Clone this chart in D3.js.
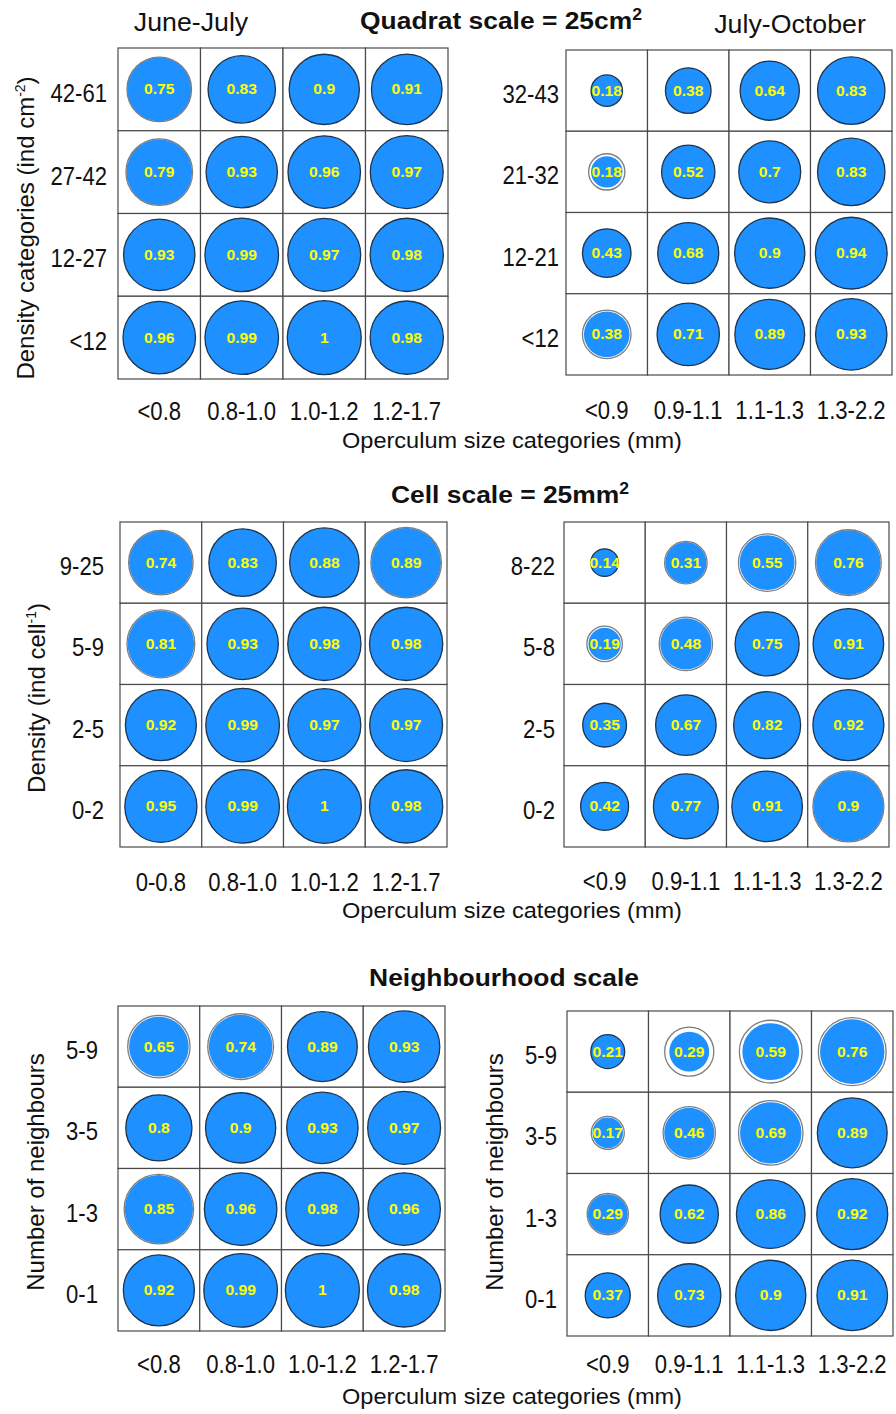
<!DOCTYPE html>
<html>
<head>
<meta charset="utf-8">
<script src="https://cdn.jsdelivr.net/npm/d3@7"></script>
<style>
  html, body { margin: 0; padding: 0; background: #fff; }
  svg { display: block; }
</style>
</head>
<body>
<svg id="chart" width="896" height="1414"></svg>
<script>
// ---- Survival proportions by operculum size and density class ----

// Quadrat scale (25 cm²)
const quadratJuneCols = ["<0.8", "0.8-1.0", "1.0-1.2", "1.2-1.7"];
const quadratJuneRows = ["42-61", "27-42", "12-27", "<12"];
const quadratJuneValues = [
  [0.75, 0.83, 0.9, 0.91],
  [0.79, 0.93, 0.96, 0.97],
  [0.93, 0.99, 0.97, 0.98],
  [0.96, 0.99, 1, 0.98]
];
const quadratJuneUpper = [
  [0.76, 0.83, 0.9, 0.91],
  [0.81, 0.93, 0.96, 0.97],
  [0.93, 0.99, 0.97, 0.98],
  [0.96, 0.99, 1, 0.98]
];

const quadratOctCols = ["<0.9", "0.9-1.1", "1.1-1.3", "1.3-2.2"];
const quadratOctRows = ["32-43", "21-32", "12-21", "<12"];
const quadratOctValues = [
  [0.18, 0.38, 0.64, 0.83],
  [0.18, 0.52, 0.7, 0.83],
  [0.43, 0.68, 0.9, 0.94],
  [0.38, 0.71, 0.89, 0.93]
];
const quadratOctUpper = [
  [0.18, 0.38, 0.64, 0.83],
  [0.24, 0.52, 0.7, 0.83],
  [0.43, 0.68, 0.9, 0.94],
  [0.43, 0.71, 0.89, 0.93]
];

// Cell scale (25 mm²)
const cellJuneCols = ["0-0.8", "0.8-1.0", "1.0-1.2", "1.2-1.7"];
const cellJuneRows = ["9-25", "5-9", "2-5", "0-2"];
const cellJuneValues = [
  [0.74, 0.83, 0.88, 0.89],
  [0.81, 0.93, 0.98, 0.98],
  [0.92, 0.99, 0.97, 0.97],
  [0.95, 0.99, 1, 0.98]
];
const cellJuneUpper = [
  [0.76, 0.83, 0.88, 0.91],
  [0.84, 0.93, 0.98, 0.98],
  [0.92, 0.99, 0.97, 0.97],
  [0.95, 0.99, 1, 0.98]
];

const cellOctCols = ["<0.9", "0.9-1.1", "1.1-1.3", "1.3-2.2"];
const cellOctRows = ["8-22", "5-8", "2-5", "0-2"];
const cellOctValues = [
  [0.14, 0.31, 0.55, 0.76],
  [0.19, 0.48, 0.75, 0.91],
  [0.35, 0.67, 0.82, 0.92],
  [0.42, 0.77, 0.91, 0.9]
];
const cellOctUpper = [
  [0.14, 0.33, 0.6, 0.79],
  [0.23, 0.52, 0.75, 0.91],
  [0.35, 0.67, 0.82, 0.92],
  [0.42, 0.77, 0.91, 0.92]
];

// Neighbourhood scale
const neighJuneCols = ["<0.8", "0.8-1.0", "1.0-1.2", "1.2-1.7"];
const neighJuneRows = ["5-9", "3-5", "1-3", "0-1"];
const neighJuneValues = [
  [0.65, 0.74, 0.89, 0.93],
  [0.8, 0.9, 0.93, 0.97],
  [0.85, 0.96, 0.98, 0.96],
  [0.92, 0.99, 1, 0.98]
];
const neighJuneUpper = [
  [0.71, 0.79, 0.89, 0.93],
  [0.8, 0.9, 0.93, 0.97],
  [0.88, 0.96, 0.98, 0.96],
  [0.92, 0.99, 1, 0.98]
];

const neighOctCols = ["<0.9", "0.9-1.1", "1.1-1.3", "1.3-2.2"];
const neighOctRows = ["5-9", "3-5", "1-3", "0-1"];
const neighOctValues = [
  [0.21, 0.29, 0.59, 0.76],
  [0.17, 0.46, 0.69, 0.89],
  [0.29, 0.62, 0.86, 0.92],
  [0.37, 0.73, 0.9, 0.91]
];
const neighOctUpper = [
  [0.21, 0.44, 0.72, 0.84],
  [0.2, 0.5, 0.76, 0.89],
  [0.31, 0.62, 0.86, 0.92],
  [0.37, 0.73, 0.9, 0.91]
];

// ---- Drawing ----
const svg = d3.select("#chart");
const TICK_SX = 0.85;          // condensed look for category labels
const BLUE = "#1E90FF";
const GRID = "#4a4a4a";
const SANS = "'Liberation Sans', Arial, sans-serif";

const radius = d3.scaleSqrt().domain([0, 1]).range([0, 37]);

function hText(parent, x, y, str, opts = {}) {
  return parent.append("text")
    .attr("transform", `translate(${x},${y}) scale(${opts.sx ?? 1.07},1)`)
    .attr("text-anchor", opts.anchor || "middle")
    .attr("font-family", opts.family || SANS)
    .attr("font-size", opts.size || 20)
    .attr("font-weight", opts.weight || "normal")
    .attr("fill", opts.fill || "#111")
    .text(str);
}

function panel(cfg) {
  const [x0, y0, x1, y1] = cfg.box;
  const g = svg.append("g");
  const x = d3.scaleBand().domain(cfg.cols).range([x0, x1]);
  const y = d3.scaleBand().domain(cfg.rows).range([y0, y1]);

  const cells = [];
  cfg.rows.forEach((r, i) => cfg.cols.forEach((c, j) =>
    cells.push({ row: r, col: c, v: cfg.values[i][j], up: cfg.upper[i][j] })));

  // grid
  g.selectAll("rect.cell").data(cells).join("rect")
    .attr("class", "cell")
    .attr("x", d => x(d.col)).attr("y", d => y(d.row))
    .attr("width", x.bandwidth()).attr("height", y.bandwidth())
    .attr("fill", "#fff").attr("stroke", GRID).attr("stroke-width", 1.2);

  const cx = d => x(d.col) + x.bandwidth() / 2;
  const cy = d => y(d.row) + y.bandwidth() / 2;

  // filled estimate
  g.selectAll("circle.est").data(cells).join("circle")
    .attr("class", "est")
    .attr("cx", cx).attr("cy", cy)
    .attr("r", d => radius(d.v))
    .attr("fill", BLUE);

  // outline at the upper bound
  g.selectAll("circle.ub").data(cells).join("circle")
    .attr("class", "ub")
    .attr("cx", cx).attr("cy", cy)
    .attr("r", d => radius(d.up))
    .attr("fill", "none")
    .attr("stroke", d => d.up > d.v ? "#7d7d7d" : "#1c3550")
    .attr("stroke-width", 1.3);

  // value labels
  cells.forEach(d => {
    hText(g, cx(d), cy(d) + 5, String(d.v), {
      size: 14.5, weight: "bold", fill: "#FFFF00", sx: 1.08
    });
  });

  // row labels
  cfg.rows.forEach(r => {
    hText(g, cfg.rowLabelX, y(r) + y.bandwidth() / 2 + 12.5, r, {
      anchor: "end", size: 26, sx: TICK_SX
    });
  });

  // column labels
  cfg.cols.forEach(c => {
    hText(g, x(c) + x.bandwidth() / 2, cfg.colLabelY, c, {
      size: 26, sx: TICK_SX
    });
  });

  // y-axis title
  if (cfg.yTitle) {
    const t = g.append("text")
      .attr("transform", `translate(${cfg.yTitleX},${cfg.yTitleY}) rotate(-90)`)
      .attr("text-anchor", "middle")
      .attr("font-family", SANS)
      .attr("font-size", 24)
      .attr("fill", "#111");
    t.append("tspan").text(cfg.yTitle[0]);
    if (cfg.yTitle[1]) {
      t.append("tspan").attr("dy", -9).attr("font-size", 14).text(cfg.yTitle[1]);
      t.append("tspan").attr("dy", 9).text(cfg.yTitle[2]);
    }
  }
}

function sectionTitle(x, y, main, sup) {
  const t = svg.append("text")
    .attr("transform", `translate(${x},${y}) scale(1.1,1)`)
    .attr("text-anchor", "middle")
    .attr("font-family", SANS)
    .attr("font-size", 24)
    .attr("font-weight", "bold")
    .attr("fill", "#111");
  t.append("tspan").text(main);
  if (sup) t.append("tspan").attr("dy", -9).attr("font-size", 16).text(sup);
}

// titles
sectionTitle(501, 29, "Quadrat scale = 25cm", "2");
sectionTitle(510, 503, "Cell scale = 25mm", "2");
sectionTitle(504, 986, "Neighbourhood scale");

hText(svg, 191, 31, "June-July", { size: 25 });
hText(svg, 790, 33, "July-October", { size: 25 });

// x-axis titles
[448, 918, 1404].forEach(yy =>
  hText(svg, 512, yy, "Operculum size categories (mm)", { size: 22 }));

panel({
  cols: quadratJuneCols, rows: quadratJuneRows,
  values: quadratJuneValues, upper: quadratJuneUpper,
  box: [118, 48, 448, 379], rowLabelX: 107, colLabelY: 420,
  yTitle: ["Density categories (ind cm", "-2", ")"], yTitleX: 34, yTitleY: 228
});
panel({
  cols: quadratOctCols, rows: quadratOctRows,
  values: quadratOctValues, upper: quadratOctUpper,
  box: [566, 50, 892, 375], rowLabelX: 559, colLabelY: 419
});
panel({
  cols: cellJuneCols, rows: cellJuneRows,
  values: cellJuneValues, upper: cellJuneUpper,
  box: [120, 522, 447, 847], rowLabelX: 104, colLabelY: 891,
  yTitle: ["Density (ind cell", "-1", ")"], yTitleX: 45, yTitleY: 698
});
panel({
  cols: cellOctCols, rows: cellOctRows,
  values: cellOctValues, upper: cellOctUpper,
  box: [564, 522, 889, 847], rowLabelX: 555, colLabelY: 890
});
panel({
  cols: neighJuneCols, rows: neighJuneRows,
  values: neighJuneValues, upper: neighJuneUpper,
  box: [118, 1006, 445, 1331], rowLabelX: 98, colLabelY: 1373,
  yTitle: ["Number of neighbours"], yTitleX: 44, yTitleY: 1172
});
panel({
  cols: neighOctCols, rows: neighOctRows,
  values: neighOctValues, upper: neighOctUpper,
  box: [567, 1011, 893, 1336], rowLabelX: 557, colLabelY: 1373,
  yTitle: ["Number of neighbours"], yTitleX: 503, yTitleY: 1172
});
</script>
</body>
</html>
